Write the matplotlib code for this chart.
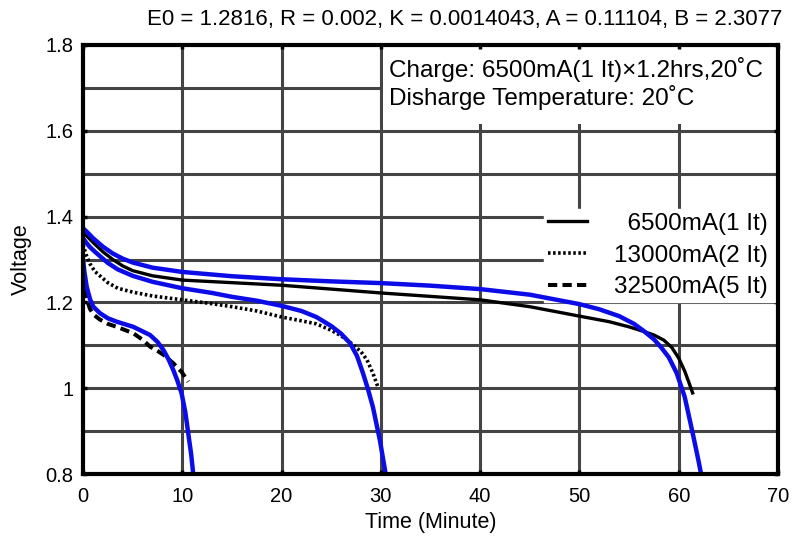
import matplotlib
matplotlib.use("Agg")
import matplotlib.pyplot as plt
from matplotlib.patches import Rectangle

plt.rcParams['font.family'] = ['Liberation Sans', 'DejaVu Sans']

# measured discharge curves (black) and fitted model curves (blue)
t_1it = [0, 0.5, 1, 2, 3, 4, 5, 7, 10, 15, 20, 25, 30, 35, 40, 45, 50, 53, 55,
         56.5, 57.5, 58.5, 59.3, 60, 60.6, 61.0, 61.4]
v_1it = [1.364, 1.352, 1.340, 1.318, 1.300, 1.285, 1.274, 1.262, 1.252, 1.246,
         1.240, 1.231, 1.222, 1.214, 1.206, 1.190, 1.168, 1.155, 1.143, 1.132,
         1.124, 1.112, 1.095, 1.070, 1.040, 1.015, 0.989]

t_2it = [0, 0.3, 0.7, 1.2, 1.7, 2.5, 3.5, 5, 7, 10, 13, 15, 17.5, 20, 22, 23.5,
         25, 26, 27, 28, 28.6, 29.2, 29.7]
v_2it = [1.335, 1.312, 1.290, 1.272, 1.262, 1.246, 1.233, 1.224, 1.215, 1.206,
         1.197, 1.190, 1.180, 1.166, 1.157, 1.150, 1.135, 1.122, 1.105, 1.085,
         1.066, 1.035, 1.003]

t_5it = [0, 0.15, 0.4, 0.7, 1.04, 1.7, 2.5, 3.4, 5.07, 6.0, 6.75, 7.5, 8.1,
         9.1, 9.93, 10.6]
v_5it = [1.265, 1.235, 1.206, 1.185, 1.172, 1.160, 1.150, 1.143, 1.128, 1.113,
         1.097, 1.087, 1.078, 1.058, 1.038, 1.015]

t_fit1 = [0, 0.5, 1, 2, 3, 4, 5, 7, 10, 15, 20, 25, 30, 35, 40, 45, 50, 52, 54,
          55.5, 56.5, 57.5, 58.2, 59, 59.8, 60.6, 61.4, 62.0, 62.5]
v_fit1 = [1.373, 1.362, 1.350, 1.330, 1.314, 1.302, 1.293, 1.281, 1.271, 1.261,
          1.254, 1.249, 1.245, 1.239, 1.231, 1.218, 1.196, 1.184, 1.168, 1.150,
          1.133, 1.114, 1.096, 1.072, 1.035, 0.980, 0.896, 0.83, 0.77]

t_fit2 = [0, 0.3, 0.7, 1.2, 1.7, 2.5, 3.5, 5, 7, 10, 13, 15, 17.5, 20, 22, 23.5,
          25, 26, 26.9, 27.6, 28.2, 28.7, 29.2, 29.9, 30.3, 30.7]
v_fit2 = [1.350, 1.340, 1.329, 1.318, 1.308, 1.292, 1.277, 1.262, 1.248, 1.233,
          1.222, 1.213, 1.204, 1.192, 1.180, 1.166, 1.145, 1.127, 1.105, 1.075,
          1.035, 0.998, 0.956, 0.879, 0.825, 0.77]

t_fit5 = [0, 0.15, 0.37, 0.7, 1.04, 1.7, 2.5, 3.4, 5.07, 6.75, 7.5, 8.1, 8.6,
          9.1, 9.5, 9.93, 10.3, 10.6, 10.9, 11.1, 11.3]
v_fit5 = [1.300, 1.270, 1.237, 1.208, 1.190, 1.175, 1.163, 1.155, 1.143, 1.124,
          1.108, 1.089, 1.068, 1.042, 1.018, 0.988, 0.945, 0.895, 0.845, 0.80, 0.77]

labels = ['  6500mA(1 It) ', '13000mA(2 It) ', '32500mA(5 It) ']
xticks = [0, 10, 20, 30, 40, 50, 60, 70]
yticks = [0.8, 1.0, 1.2, 1.4, 1.6, 1.8]
yticklabels = ['0.8', '1', '1.2', '1.4', '1.6', '1.8']
ygrid = [0.9, 1.0, 1.1, 1.2, 1.3, 1.4, 1.5, 1.6, 1.7]
xgrid = [10, 20, 30, 40, 50, 60]

fig = plt.figure(figsize=(7.97, 5.39), dpi=100)
ax = fig.add_axes([83/797, 1 - 474/539, 695/797, 429/539])

for y in ygrid:
    ax.axhline(y, color='#444444', lw=2.2, zorder=1)
for x in xgrid:
    ax.axvline(x, color='#444444', lw=2.2, zorder=1)

# white box behind the charge note
ax.add_patch(Rectangle((30.25, 1.615), 39.75, 0.185, facecolor='white',
                       edgecolor='none', zorder=1.5))

l1, = ax.plot(t_1it, v_1it, color='black', lw=2.4, zorder=2, label=labels[0])
l2, = ax.plot(t_2it, v_2it, color='black', lw=2.6, ls=(0, (0.7, 0.7)),
              zorder=2, label=labels[1])
l3, = ax.plot(t_5it, v_5it, color='black', lw=2.9, ls=(0, (2.3, 1.3)),
              zorder=2, label=labels[2])
for tt, vv in [(t_fit1, v_fit1), (t_fit2, v_fit2), (t_fit5, v_fit5)]:
    ax.plot(tt, vv, color='#0c0ce8', lw=3.2, zorder=3, solid_capstyle='butt')

ax.set_xlim(0, 70)
ax.set_ylim(0.8, 1.8)
ax.set_xticks(xticks)
ax.set_yticks(yticks)
ax.set_yticklabels(yticklabels)
ax.tick_params(direction='in', length=3, width=2.5, top=True, right=True,
               labelsize=14.5, pad=7)
ax.tick_params(axis='x', pad=9)
for s in ax.spines.values():
    s.set_linewidth(3)
    s.set_zorder(4)

ax.set_xlabel('Time (Minute)', fontsize=15.5)
ax.xaxis.set_label_coords(0.5, -0.114)
ax.xaxis.label.set_va('center')
ax.set_ylabel('Voltage', fontsize=15.5)
ax.yaxis.set_label_coords(-0.088, 0.5)
ax.yaxis.label.set_va('center')

ax.text(30.85, 1.725, 'Charge: 6500mA(1 It)×1.2hrs,20˚C', fontsize=17.5,
        va='baseline', zorder=1.6)
ax.text(30.85, 1.659, 'Disharge Temperature: 20˚C', fontsize=17.5,
        va='baseline', zorder=1.6)

leg = ax.legend(handles=[l1, l2, l3], loc='upper right',
                bbox_to_anchor=(1.0, 0.617), borderaxespad=0, fontsize=17.5,
                handlelength=1.6, handletextpad=1.1, labelspacing=0.4,
                borderpad=0.15, fancybox=False, framealpha=1,
                facecolor='white', edgecolor='white')
leg.set_zorder(1.7)

fig.text(782/797, 1 - 20/539,
         'E0 = 1.2816, R = 0.002, K = 0.0014043, A = 0.11104, B = 2.3077',
         ha='right', va='center', fontsize=16)

fig.savefig('out.png', dpi=100, facecolor='white')
